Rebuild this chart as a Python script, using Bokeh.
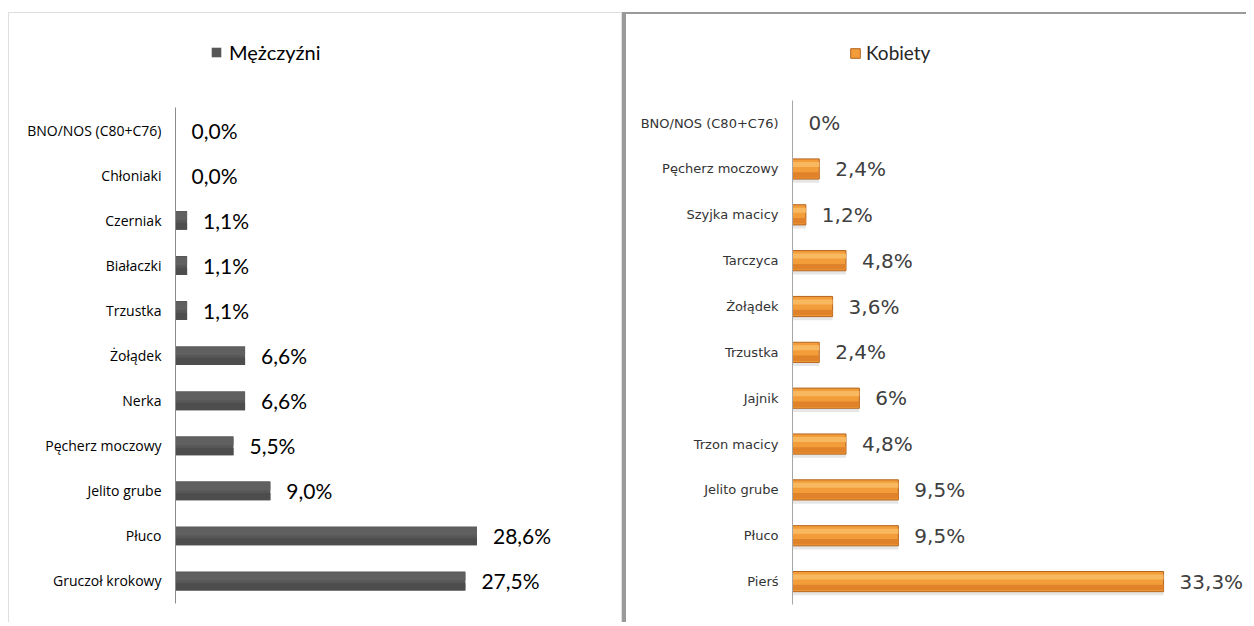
from bokeh.plotting import figure
from bokeh.models import Range1d, Legend, LegendItem, ColumnDataSource, FixedTicker
from bokeh.layouts import row
from bokeh.embed import file_html
from bokeh.resources import INLINE
from bokeh.core.properties import value

# ---- data ----
men_categories = ["BNO/NOS (C80+C76)", "Chłoniaki", "Czerniak", "Białaczki", "Trzustka",
                  "Żołądek", "Nerka", "Pęcherz moczowy", "Jelito grube", "Płuco", "Gruczoł krokowy"]
men_values = [0.0, 0.0, 1.1, 1.1, 1.1, 6.6, 6.6, 5.5, 9.0, 28.6, 27.5]

women_categories = ["BNO/NOS (C80+C76)", "Pęcherz moczowy", "Szyjka macicy", "Tarczyca", "Żołądek",
                    "Trzustka", "Jajnik", "Trzon macicy", "Jelito grube", "Płuco", "Pierś"]
women_values = [0, 2.4, 1.2, 4.8, 3.6, 2.4, 6, 4.8, 9.5, 9.5, 33.3]

men_series = "Mężczyźni"
women_series = "Kobiety"

men_labels = [f"{v:.1f}".replace(".", ",") + "%" for v in men_values]
women_labels = [f"{v:g}".replace(".", ",") + "%" for v in women_values]


def make_source(cats, vals, labs):
    n = len(cats)
    pos = [n - 1 - i for i in range(n)]  # first category on top
    return ColumnDataSource(dict(cat=cats, val=vals, lab=labs, pos=pos,
                                 up=[p + 0.1 for p in pos], dn=[p - 0.13 for p in pos],
                                 sh=[p - 0.26 for p in pos])), pos


def style_axis(p, cats, pos, font, size, color, line_color):
    ax = p.yaxis[0]
    ax.ticker = FixedTicker(ticks=pos)
    ax.major_label_overrides = {p_: c for p_, c in zip(pos, cats)}
    ax.bounds = (-0.5, len(cats) - 0.5)
    ax.axis_line_color = line_color
    ax.major_tick_line_color = None
    ax.minor_tick_line_color = None
    ax.major_tick_out = 0
    ax.major_tick_in = 0
    ax.major_label_text_font = font
    ax.major_label_text_font_size = size
    ax.major_label_text_color = color
    ax.major_label_standoff = 14


# ---- left chart ----
src_m, pos_m = make_source(men_categories, men_values, men_labels)
p1 = figure(width=614, height=610, output_backend="svg", toolbar_location=None,
            y_range=Range1d(-0.5, 12.59), x_range=Range1d(0, 42.5),
            min_border_left=166, min_border_top=0, min_border_bottom=20, min_border_right=0)
p1.margin = (12, 0, 0, 8)
p1.styles = {"border-top": "1px solid #dedede", "border-left": "1px solid #dedede",
             "border-right": "1px solid #dedede", "box-sizing": "border-box"}
p1.outline_line_color = None
p1.grid.visible = False
p1.xaxis.visible = False
style_axis(p1, men_categories, pos_m, "Open Sans", "14px", "#000000", "#8c8c8c")

rm = p1.hbar(y="pos", right="val", left=0, height=0.42, source=src_m,
             fill_color="#575757", line_color=None)
p1.hbar(y="up", right="val", left=0, height=0.18, source=src_m,
        fill_color="#606060", line_color=None)
p1.hbar(y="dn", right="val", left=0, height=0.16, source=src_m,
        fill_color="#4d4d4d", line_color=None)
p1.text(x="val", y="pos", text="lab", source=src_m, x_offset=16, text_baseline="middle",
        text_align="left", text_font=value("Lato"), text_font_size="21px", text_color="#000000")

leg1 = Legend(items=[LegendItem(label=men_series, renderers=[rm])], location=(35, 539),
              padding=0, margin=0, border_line_color=None, background_fill_alpha=0,
              glyph_width=12, glyph_height=12, label_standoff=7, label_height=20,
              label_text_font="Lato", label_text_font_size="20px", label_text_color="#000000")
p1.add_layout(leg1, "center")

# ---- right chart ----
src_w, pos_w = make_source(women_categories, women_values, women_labels)
p2 = figure(width=624, height=610, output_backend="svg", toolbar_location=None,
            y_range=Range1d(-0.5, 12.37), x_range=Range1d(0, 41.1),
            min_border_left=166, min_border_top=0, min_border_bottom=20, min_border_right=0)
p2.margin = (12, 0, 0, 0)
p2.styles = {"border-left": "4px solid #9a9a9a", "border-top": "2px solid #9a9a9a",
             "box-sizing": "border-box"}
p2.outline_line_color = None
p2.grid.visible = False
p2.xaxis.visible = False
style_axis(p2, women_categories, pos_w, "DejaVu Sans", "13px", "#333333", "#a6a6a6")

p2.hbar(y="sh", right="val", left=0, height=0.08, source=src_w,
        fill_color="#e6e6e6", line_color=None)
rw = p2.hbar(y="pos", right="val", left=0, height=0.44, source=src_w,
             fill_color="#F39C3A", line_color="#B3641E", line_width=1)
p2.hbar(y="up", right="val", left=0, height=0.11, source=src_w,
        fill_color="#F8B860", line_color=None)
p2.hbar(y="dn", right="val", left=0, height=0.12, source=src_w,
        fill_color="#E0822A", line_color=None)
p2.text(x="val", y="pos", text="lab", source=src_w, x_offset=16, text_baseline="middle",
        text_align="left", text_font=value("DejaVu Sans"), text_font_size="20px",
        text_color="#404040")

leg2 = Legend(items=[LegendItem(label=women_series, renderers=[rw])], location=(57, 540),
              padding=0, margin=0, border_line_color=None, background_fill_alpha=0,
              glyph_width=12, glyph_height=12, label_standoff=5, label_height=20,
              label_text_font="Lato", label_text_font_size="19px", label_text_color="#262626")
p2.add_layout(leg2, "center")

layout = row(p1, p2)
open("out.html", "w").write(file_html(layout, INLINE))
